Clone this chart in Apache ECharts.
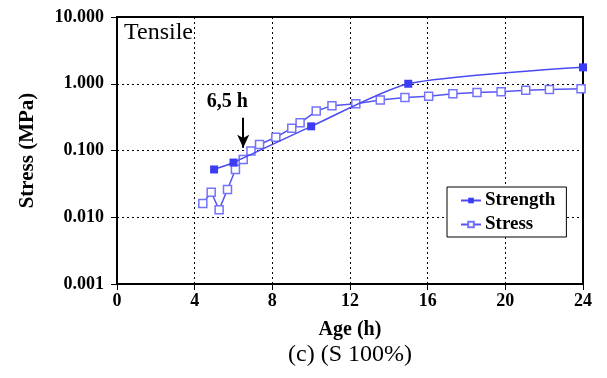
<!DOCTYPE html>
<html>
<head>
<meta charset="utf-8">
<script src="https://cdn.jsdelivr.net/npm/echarts@6/dist/echarts.min.js"></script>
<style>
  html, body { margin: 0; padding: 0; background: #fff; }
  #chart { width: 607px; height: 378px; }
</style>
</head>
<body>
<div id="chart"></div>
<script>
// Tensile strength and induced stress versus age (log scale)
const strengthAge = [5.0, 6.0, 10.0, 15.0, 24.0];
const strengthVal = [0.052, 0.066, 0.23, 1.0, 1.76];

const stressAge = [4.42, 4.85, 5.26, 5.69, 6.1, 6.5, 6.9, 7.34, 8.18, 9.0, 9.43, 10.26, 11.07, 12.3, 13.56, 14.83, 16.05, 17.3, 18.54, 19.78, 21.05, 22.27, 23.9];
const stressVal = [0.016, 0.0237, 0.013, 0.026, 0.052, 0.073, 0.098, 0.123, 0.158, 0.216, 0.26, 0.39, 0.47, 0.5, 0.57, 0.62, 0.65, 0.71, 0.74, 0.76, 0.80, 0.82, 0.84];

const xTicks = [0, 4, 8, 12, 16, 20, 24];
const yTicks = [0.001, 0.01, 0.1, 1, 10];

// Onset marker
const onsetAge = 6.5;
const onsetLabel = '6,5 h';

const FONT = '"Liberation Serif", "DejaVu Serif", serif';

const chart = echarts.init(document.getElementById('chart'));

chart.setOption({
  animation: false,
  backgroundColor: '#fff',
  textStyle: { fontFamily: FONT },
  grid: {
    left: 117, right: 24, top: 17, bottom: 94,
    show: true, borderColor: '#000', borderWidth: 2, backgroundColor: '#fff'
  },
  xAxis: {
    type: 'value', min: xTicks[0], max: xTicks[xTicks.length - 1], interval: 4,
    axisLine: { show: true, lineStyle: { color: '#000', width: 2 } },
    axisTick: { show: true, inside: false, length: 6, lineStyle: { color: '#000', width: 1 } },
    axisLabel: { color: '#000', fontFamily: FONT, fontWeight: 'bold', fontSize: 18, margin: 8 },
    splitLine: { show: true, showMinLine: false, showMaxLine: false, lineStyle: { color: '#000', type: [2, 3], width: 1 } },
    name: 'Age (h)', nameLocation: 'middle', nameGap: 36,
    nameTextStyle: { color: '#000', fontFamily: FONT, fontWeight: 'bold', fontSize: 20 }
  },
  yAxis: {
    type: 'log', logBase: 10, min: yTicks[0], max: yTicks[yTicks.length - 1],
    axisLine: { show: true, lineStyle: { color: '#000', width: 2 } },
    axisTick: { show: true, inside: false, length: 6, lineStyle: { color: '#000', width: 1 } },
    axisLabel: {
      color: '#000', fontFamily: FONT, fontWeight: 'bold', fontSize: 18, margin: 13,
      formatter: v => Number(v).toFixed(3)
    },
    splitLine: { show: true, showMinLine: false, showMaxLine: false, lineStyle: { color: '#000', type: [2, 3], width: 1 } },
    name: 'Stress (MPa)', nameLocation: 'middle', nameGap: 79, nameRotate: 90,
    nameTextStyle: { color: '#000', fontFamily: FONT, fontWeight: 'bold', fontSize: 21 }
  },
  legend: {
    left: 447, top: 187, orient: 'vertical',
    backgroundColor: '#fff', borderColor: '#000', borderWidth: 1,
    padding: [4, 11, 3, 13], itemGap: 5, itemWidth: 20, itemHeight: 7,
    textStyle: { color: '#000', fontFamily: FONT, fontWeight: 'bold', fontSize: 19, padding: [0, 0, 0, -1] },
    data: ['Strength', 'Stress']
  },
  graphic: [
    {
      type: 'text', left: 124, top: 21,
      style: { text: 'Tensile', font: '24px ' + FONT, fill: '#000' }
    },
    {
      type: 'text', x: 350, y: 355,
      style: { text: '(c) (S 100%)', font: '24px ' + FONT, fill: '#000', textAlign: 'center', textVerticalAlign: 'middle' }
    }
  ],
  series: [
    {
      name: 'Stress', type: 'line',
      data: stressAge.map((a, i) => [a, stressVal[i]]),
      symbol: 'rect', symbolSize: 8,
      itemStyle: { color: '#fff', borderColor: '#7373ff', borderWidth: 1.5 },
      lineStyle: { color: '#5555f2', width: 1.5 },
      z: 3
    },
    {
      name: 'Strength', type: 'line',
      data: strengthAge.map((a, i) => [a, strengthVal[i]]),
      symbol: 'rect', symbolSize: 8, smooth: 0.22,
      itemStyle: { color: '#3c3cf5' },
      lineStyle: { color: '#4a4af2', width: 1.5 },
      z: 4,
      markLine: {
        silent: true, animation: false,
        symbol: ['none', 'arrow'], symbolSize: [9, 13],
        lineStyle: { color: '#000', width: 2, type: 'solid' },
        label: {
          show: true, position: 'start', formatter: onsetLabel, distance: 6,
          color: '#000', fontFamily: FONT, fontWeight: 'bold', fontSize: 20, offset: [-16, 0]
        },
        data: [[{ coord: [onsetAge, 0.31] }, { coord: [onsetAge, 0.11] }]]
      }
    }
  ]
});
</script>
</body>
</html>
